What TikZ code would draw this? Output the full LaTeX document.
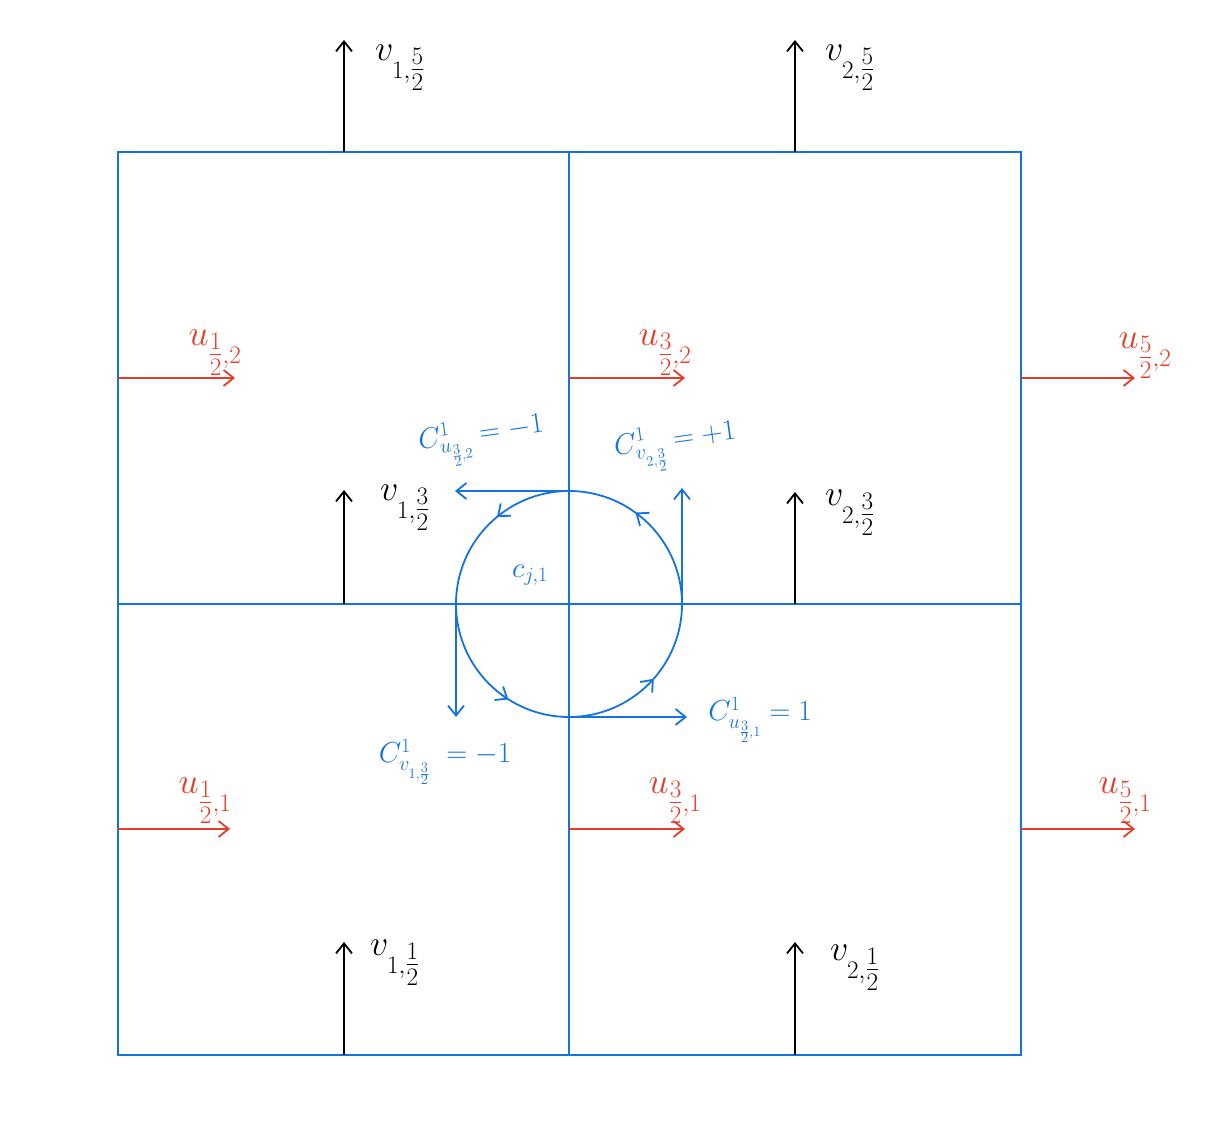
\RequirePackage{fix-cm}
\documentclass[tikz,border=0pt]{standalone}
\usepackage{amsmath}
\usetikzlibrary{arrows.meta,decorations.markings}
\definecolor{gridblue}{RGB}{20,115,225}
\definecolor{ured}{RGB}{230,60,40}
\begin{document}
\begin{tikzpicture}[x=1pt,y=1pt,
  tip/.style={-{Straight Barb[length=10pt,width=16pt,line width=1.8pt]}},
  varrow/.style={tip,draw=black,line width=1.8pt},
  uarrow/.style={tip,draw=ured,line width=1.8pt},
  carrow/.style={tip,draw=gridblue,line width=1.8pt},
  vlab/.style={text=black,font=\fontsize{36}{42}\selectfont,inner sep=0pt},
  ulab/.style={text=ured,font=\fontsize{36}{42}\selectfont,inner sep=0pt},
  clab/.style={text=gridblue,font=\fontsize{29}{35}\selectfont,inner sep=0pt},
  gridline/.style={draw=gridblue,line width=1.8pt}]
\useasboundingbox (0,0) rectangle (1212,1140);
% grid
\draw[gridline] (118,85) rectangle (1021,988);
\draw[gridline] (569,85) -- (569,988);
\draw[gridline] (118,536) -- (1021,536);
% coordinates
\coordinate (vt1s) at (344,988); \coordinate (vt1e) at (344,1100);
\coordinate (vt2s) at (795,988); \coordinate (vt2e) at (795,1100);
\coordinate (vm1s) at (344,536); \coordinate (vm1e) at (344,650);
\coordinate (vm2s) at (795,536); \coordinate (vm2e) at (795,648);
\coordinate (vb1s) at (344,85);  \coordinate (vb1e) at (344,198);
\coordinate (vb2s) at (795,85);  \coordinate (vb2e) at (795,198);
\coordinate (ut1s) at (118,762); \coordinate (ut1e) at (235,762);
\coordinate (ut2s) at (569,762); \coordinate (ut2e) at (685,762);
\coordinate (ut3s) at (1021,762); \coordinate (ut3e) at (1135,762);
\coordinate (ub1s) at (118,311); \coordinate (ub1e) at (230,311);
\coordinate (ub2s) at (569,311); \coordinate (ub2e) at (685,311);
\coordinate (ub3s) at (1021,311); \coordinate (ub3e) at (1135,311);
\coordinate (ctr) at (569,536);
\coordinate (ctop) at (569,649); \coordinate (ctopE) at (455,649);
\coordinate (cleft) at (456,536); \coordinate (cleftE) at (456,423);
\coordinate (cbot) at (569,423); \coordinate (cbotE) at (687,423);
\coordinate (cright) at (682,536); \coordinate (crightE) at (682,652);
% v arrows
\draw[varrow] (vt1s) -- (vt1e);
\draw[varrow] (vt2s) -- (vt2e);
\draw[varrow] (vm1s) -- (vm1e);
\draw[varrow] (vm2s) -- (vm2e);
\draw[varrow] (vb1s) -- (vb1e);
\draw[varrow] (vb2s) -- (vb2e);
% u arrows
\draw[uarrow] (ut1s) -- (ut1e);
\draw[uarrow] (ut2s) -- (ut2e);
\draw[uarrow] (ut3s) -- (ut3e);
\draw[uarrow] (ub1s) -- (ub1e);
\draw[uarrow] (ub2s) -- (ub2e);
\draw[uarrow] (ub3s) -- (ub3e);
% circulation circle
\draw[gridline,postaction={decorate},decoration={markings,
   mark=at position 0.15 with {\arrow{Straight Barb[length=10pt,width=16pt,line width=1.8pt]}},
   mark=at position 0.36 with {\arrow{Straight Barb[length=10pt,width=16pt,line width=1.8pt]}},
   mark=at position 0.66 with {\arrow{Straight Barb[length=10pt,width=16pt,line width=1.8pt]}},
   mark=at position 0.885 with {\arrow{Straight Barb[length=10pt,width=16pt,line width=1.8pt]}}}]
   (ctr) circle[radius=113];
\draw[carrow] (ctop) -- (ctopE);
\draw[carrow] (cleft) -- (cleftE);
\draw[carrow] (cbot) -- (cbotE);
\draw[carrow] (cright) -- (crightE);
% labels v
\node[vlab] (lv15) at (400,1072) {$v_{1,\tfrac52}$};
\node[vlab] (lv25) at (850,1072) {$v_{2,\tfrac52}$};
\node[vlab] (lv13) at (405,632) {$v_{1,\tfrac32}$};
\node[vlab] (lv23) at (850,627) {$v_{2,\tfrac32}$};
\node[vlab] (lv11) at (395,177) {$v_{1,\tfrac12}$};
\node[vlab] (lv21) at (855,172) {$v_{2,\tfrac12}$};
% labels u
\node[ulab] (lu12) at (215,787) {$u_{\tfrac12,2}$};
\node[ulab] (lu32) at (665,787) {$u_{\tfrac32,2}$};
\node[ulab] (lu52) at (1145,784) {$u_{\tfrac52,2}$};
\node[ulab] (lu11) at (205,339) {$u_{\tfrac12,1}$};
\node[ulab] (lu31) at (675,339) {$u_{\tfrac32,1}$};
\node[ulab] (lu51) at (1125,339) {$u_{\tfrac52,1}$};
% circulation labels
\node[clab,rotate=8] (lcu2) at (482,700) {$C^1_{u_{\frac32,2}}=-1$};
\node[clab,rotate=8] (lcv2) at (676,694) {$C^1_{v_{2,\frac32}}=+1$};
\node[clab] (lcj) at (530,565) {$c_{j,1}$};
\node[clab] (lcu1) at (760,420) {$C^1_{u_{\frac32,1}}=1$};
\node[clab] (lcv1) at (445,378) {$C^1_{v_{1,\frac32}}\;=-1$};
\end{tikzpicture}
\end{document}
